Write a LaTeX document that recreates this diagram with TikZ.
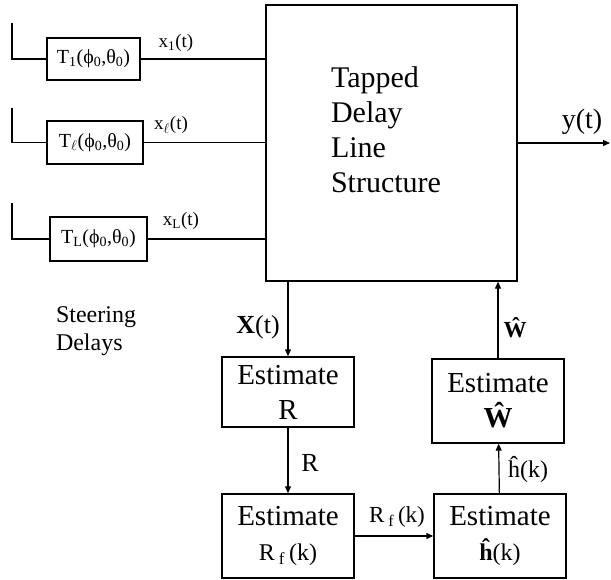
\documentclass[tikz,border=0pt]{standalone}
\usepackage{fontspec}
\setmainfont{Liberation Serif}
\usetikzlibrary{arrows.meta,positioning,calc}

\begin{document}
\begin{tikzpicture}[
    x=1pt, y=-1pt,
    >={Triangle[length=7pt,width=6pt]},
    line width=1.2pt,
    delaybox/.style={draw, line width=1.4pt, inner sep=0pt,
        font=\fontsize{20}{24}\selectfont},
    estbox/.style={draw, line width=1.4pt, minimum width=132pt, align=center,
        inner sep=0pt, font=\fontsize{29}{35}\selectfont},
    siglabel/.style={font=\fontsize{19}{22}\selectfont},
    biglabel/.style={font=\fontsize{26}{30}\selectfont},
]
\useasboundingbox (0,0) rectangle (611,580);

% =====================================================
% Tapped delay line structure
% =====================================================
\node[draw, line width=1.4pt, minimum width=251pt, minimum height=276pt]
    (tdl) at (391.5,143) {};
\node[align=left, font=\fontsize{30}{35}\selectfont]
    (tdltext) at (386,130) {Tapped\\Delay\\Line\\Structure};

\coordinate (yout) at (610,143);
\draw[->] (tdl.east) -- (yout);
\node[biglabel, font=\fontsize{28}{30}\selectfont] (ylab) at (582,122) {y(t)};

% =====================================================
% Steering delays (left side)
% =====================================================
\node[delaybox, minimum width=93pt, minimum height=42pt] (d1) at (93.5,59)
    {T\textsubscript{1}(ϕ\textsubscript{0},θ\textsubscript{0})};
\node[delaybox, minimum width=96pt, minimum height=43pt] (d2) at (95,142.5)
    {T\textsubscript{$\ell$}(ϕ\textsubscript{0},θ\textsubscript{0})};
\node[delaybox, minimum width=97pt, minimum height=44pt] (d3) at (98.5,239)
    {T\textsubscript{L}(ϕ\textsubscript{0},θ\textsubscript{0})};

\coordinate (in1) at (12,23);
\coordinate (in2) at (12,108);
\coordinate (in3) at (12,203);
\draw (in1) |- (d1.west);
\draw (in2) |- (d2.west);
\draw (in3) |- (d3.west);

\draw (d1.east) -- (tdl.west |- d1.east);
\draw (d2.east) -- (tdl.west |- d2.east);
\draw (d3.east) -- (tdl.west |- d3.east);

\node[siglabel] (x1) at (176,43) {x\textsubscript{1}(t)};
\node[siglabel] (x2) at (171,125) {x\textsubscript{$\ell$}(t)};
\node[siglabel] (x3) at (181,221) {x\textsubscript{L}(t)};

\node[align=left, font=\fontsize{24}{28}\selectfont]
    (steer) at (96,331) {Steering\\Delays};

% =====================================================
% Estimation chain (bottom)
% =====================================================
\node[estbox, minimum height=70pt] (estR) at (288,392) {Estimate\\R};
\node[estbox, minimum height=84pt] (estRf) at (288,536)
    {Estimate\\{\fontsize{24}{26}\selectfont R\,\textsubscript{f}\,(k)}};
\node[estbox, minimum height=84pt] (esth) at (500,536)
    {Estimate\\{\fontsize{24}{26}\selectfont\textbf{ĥ}(k)}};
\node[estbox, minimum height=84pt] (estW) at (498,401)
    {Estimate\\\textbf{Ŵ}};

\draw[->] (estR.north |- tdl.south) -- (estR.north);
\node[biglabel] (xlab) at (258,327) {\textbf{X}(t)};

\draw[->] (estR) -- (estRf);
\node[biglabel] (rlab) at (310,463) {R};

\draw[->] (estRf) -- (esth);
\node[biglabel, font=\fontsize{23}{26}\selectfont] (rflab) at (397,517)
    {R\,\textsubscript{f}\,(k)};

\draw[->] (esth) -- (estW);
\node[biglabel, font=\fontsize{24}{26}\selectfont] (hlab) at (528,470) {ĥ(k)};

\draw[->] (estW) -- (estW.north |- tdl.south);
\node[biglabel, font=\fontsize{23}{26}\selectfont] (wlab) at (515,328) {\textbf{Ŵ}};

\end{tikzpicture}
\end{document}
